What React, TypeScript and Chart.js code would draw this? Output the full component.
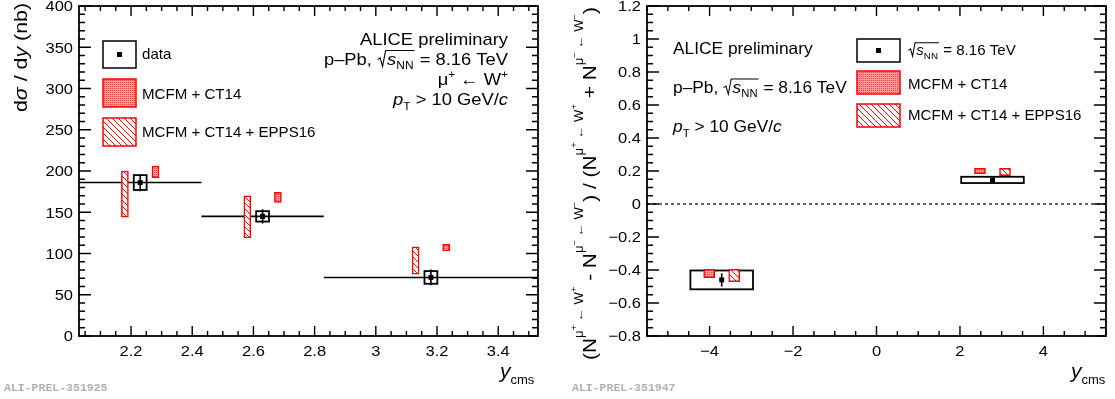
import React, { useEffect, useRef } from "react";
import { Chart, registerables } from "chart.js";
Chart.register(...registerables);

// ---------- Left panel: dσ/dy, μ+ ← W+ ----------
const binLoL = [2.03, 2.43, 2.83];
const binHiL = [2.43, 2.83, 3.53];
const ycmsL = [2.23, 2.63, 3.18];
const xsecL = [186, 145, 71];
const statL = [10.5, 8.7, 9.5];
const systL = [9, 6.3, 7.7];
const ct14XL = [2.28, 2.68, 3.23];
const ct14LoL = [192, 162, 103];
const ct14HiL = [206, 174, 111];
const eppsXL = [2.18, 2.58, 3.13];
const eppsLoL = [144, 119, 75];
const eppsHiL = [200, 170, 108];
const xTickValsL = [2.2, 2.4, 2.6, 2.8, 3, 3.2, 3.4];
const xTickLabsL = ["2.2", "2.4", "2.6", "2.8", "3", "3.2", "3.4"];
const yTickValsL = [0, 50, 100, 150, 200, 250, 300, 350, 400];
const yTickLabsL = ["0", "50", "100", "150", "200", "250", "300", "350", "400"];

// ---------- Right panel: charge asymmetry ----------
const binLoR = [-4.46, 2.03];
const binHiR = [-2.96, 3.53];
const ycmsR = [-3.71, 2.78];
const asymR = [-0.46, 0.146];
const statR = [0.04, 0.01];
const systR = [0.057, 0.019];
const ct14XR = [-4.01, 2.48];
const ct14LoR = [-0.447, 0.184];
const ct14HiR = [-0.396, 0.216];
const eppsXR = [-3.41, 3.08];
const eppsLoR = [-0.471, 0.172];
const eppsHiR = [-0.396, 0.216];
const xTickValsR = [-4, -2, 0, 2, 4];
const xTickLabsR = ["\u22124", "\u22122", "0", "2", "4"];
const yTickValsR = [-0.8, -0.6, -0.4, -0.2, 0, 0.2, 0.4, 0.6, 0.8, 1, 1.2];
const yTickLabsR = ["\u22120.8", "\u22120.6", "\u22120.4", "\u22120.2", "0", "0.2", "0.4", "0.6", "0.8", "1", "1.2"];

const FAM = '"Liberation Sans", Arial, Helvetica, sans-serif';
const RED = "#ff0000";
const SYS_HALF_L = 0.021;

type Seg = { t?: string; size: number; dy?: number; it?: boolean; sqrt?: Seg[] };
const T = (t: string, size: number, o: Partial<Seg> = {}): Seg => ({ t, size, ...o });
const fontOf = (s: Seg) => `${s.it ? "italic " : ""}${s.size}px ${FAM}`;

function segsWidth(ctx: CanvasRenderingContext2D, segs: Seg[]): number {
  let w = 0;
  for (const s of segs) {
    if (s.sqrt) w += s.size * 0.55 + segsWidth(ctx, s.sqrt) + 1;
    else {
      ctx.font = fontOf(s);
      w += ctx.measureText(s.t || "").width;
    }
  }
  return w;
}
function drawSegs(ctx: CanvasRenderingContext2D, segs: Seg[], x: number, y: number): number {
  for (const s of segs) {
    if (s.sqrt) {
      const rw = s.size * 0.55;
      const inner = segsWidth(ctx, s.sqrt);
      const top = y - s.size * 0.85;
      ctx.beginPath();
      ctx.moveTo(x + rw * 0.05, y - s.size * 0.32);
      ctx.lineTo(x + rw * 0.3, y - s.size * 0.42);
      ctx.lineTo(x + rw * 0.55, y + s.size * 0.08);
      ctx.lineTo(x + rw * 0.85, top);
      ctx.lineTo(x + rw + inner + 1, top);
      ctx.lineWidth = 1;
      ctx.stroke();
      x = drawSegs(ctx, s.sqrt, x + rw, y) + 1;
    } else {
      ctx.font = fontOf(s);
      ctx.fillText(s.t || "", x, y + (s.dy || 0));
      x += ctx.measureText(s.t || "").width;
    }
  }
  return x;
}
function drawRich(
  ctx: CanvasRenderingContext2D, segs: Seg[], x: number, y: number,
  align: "left" | "right" | "center" = "left",
  o: { rot?: number; sx?: number; fitW?: number; color?: string } = {}
) {
  ctx.save();
  ctx.translate(x, y);
  if (o.rot) ctx.rotate(o.rot);
  const w0 = segsWidth(ctx, segs);
  const sx = o.fitW ? o.fitW / w0 : o.sx ?? 1;
  ctx.scale(sx, 1);
  const x0 = align === "left" ? 0 : align === "right" ? -w0 : -w0 / 2;
  ctx.fillStyle = o.color || "#000";
  ctx.strokeStyle = o.color || "#000";
  ctx.textAlign = "left";
  ctx.textBaseline = "alphabetic";
  drawSegs(ctx, segs, x0, 0);
  ctx.restore();
}

function makeHatch(ctx: CanvasRenderingContext2D): CanvasPattern {
  const c = document.createElement("canvas");
  c.width = 6; c.height = 6;
  const g = c.getContext("2d")!;
  g.fillStyle = "#fff"; g.fillRect(0, 0, 6, 6);
  g.strokeStyle = RED; g.lineWidth = 1;
  g.beginPath();
  g.moveTo(-1, -1); g.lineTo(7, 7);
  g.moveTo(-1, 5); g.lineTo(1, 7);
  g.moveTo(5, -1); g.lineTo(7, 1);
  g.stroke();
  return ctx.createPattern(c, "repeat")!;
}
function makeDots(ctx: CanvasRenderingContext2D): CanvasPattern {
  const c = document.createElement("canvas");
  c.width = 2; c.height = 2;
  const g = c.getContext("2d")!;
  g.fillStyle = "#ff9a9a"; g.fillRect(0, 0, 2, 2);
  g.fillStyle = "#ff4040"; g.fillRect(0, 0, 1, 1);
  return ctx.createPattern(c, "repeat")!;
}

function drawAxes(
  chart: any, xMinor: number, xPer: number, yMinor: number, yPer: number,
  xVals: number[], xLabs: string[], yVals: number[], yLabs: string[]
) {
  const { ctx, chartArea: a, scales } = chart;
  const x = scales.x, y = scales.y;
  ctx.save();
  ctx.strokeStyle = "#000";
  ctx.lineWidth = 1.4;
  ctx.beginPath();
  const xk0 = Math.ceil(x.min / xMinor - 1e-6), xk1 = Math.floor(x.max / xMinor + 1e-6);
  for (let k = xk0; k <= xk1; k++) {
    const px = x.getPixelForValue(k * xMinor);
    const len = k % xPer === 0 ? 10 : 5;
    ctx.moveTo(px, a.bottom); ctx.lineTo(px, a.bottom - len);
    ctx.moveTo(px, a.top); ctx.lineTo(px, a.top + len);
  }
  const yk0 = Math.ceil(y.min / yMinor - 1e-6), yk1 = Math.floor(y.max / yMinor + 1e-6);
  for (let k = yk0; k <= yk1; k++) {
    const py = y.getPixelForValue(k * yMinor);
    const len = k % yPer === 0 ? 12 : 6;
    ctx.moveTo(a.left, py); ctx.lineTo(a.left + len, py);
    ctx.moveTo(a.right, py); ctx.lineTo(a.right - len, py);
  }
  ctx.stroke();
  ctx.lineWidth = 1.8;
  ctx.strokeRect(a.left, a.top, a.right - a.left, a.bottom - a.top);
  ctx.restore();
  xVals.forEach((v, i) => {
    drawRich(ctx, [T(xLabs[i], 15)], x.getPixelForValue(v), a.bottom + 20, "center", { sx: 1.1 });
  });
  yVals.forEach((v, i) => {
    drawRich(ctx, [T(yLabs[i], 15)], a.left - 6, y.getPixelForValue(v) + 5.3, "right", { sx: 1.1 });
  });
}

function ycmsTitle(ctx: CanvasRenderingContext2D, x: number) {
  drawRich(ctx, [T("y", 21, { it: true }), T("cms", 13, { dy: 6 })], x, 378, "left");
}
function aliTag(ctx: CanvasRenderingContext2D, x: number, s: string) {
  ctx.save();
  ctx.font = 'bold 11.5px "Liberation Mono", "DejaVu Sans Mono", monospace';
  ctx.fillStyle = "#b0b0b0";
  ctx.textBaseline = "alphabetic";
  ctx.fillText(s, x, 391);
  ctx.restore();
}
const sqrtS = (sz: number): Seg => ({ sqrt: [T("s", sz, { it: true }), T("NN", sz * 0.65, { dy: sz * 0.25 })], size: sz });

function makeLeft(canvas: HTMLCanvasElement): Chart {
  const c2d = canvas.getContext("2d")!;
  const hatch = makeHatch(c2d), dots = makeDots(c2d);
  const plugin = {
    id: "leftPanel",
    beforeDatasetsDraw(chart: any) {
      const { ctx, scales: { x, y } } = chart;
      ctx.save();
      ctx.strokeStyle = "#000";
      ctx.lineWidth = 1.6;
      xsecL.forEach((v, i) => {
        const py = y.getPixelForValue(v);
        ctx.beginPath();
        ctx.moveTo(x.getPixelForValue(binLoL[i]), py);
        ctx.lineTo(x.getPixelForValue(binHiL[i]), py);
        const px = x.getPixelForValue(ycmsL[i]);
        ctx.moveTo(px, y.getPixelForValue(v + statL[i]));
        ctx.lineTo(px, y.getPixelForValue(v - statL[i]));
        ctx.stroke();
        ctx.lineWidth = 1.8;
        const x0 = x.getPixelForValue(ycmsL[i] - SYS_HALF_L), x1 = x.getPixelForValue(ycmsL[i] + SYS_HALF_L);
        const y0 = y.getPixelForValue(v + systL[i]), y1 = y.getPixelForValue(v - systL[i]);
        ctx.strokeRect(x0, y0, x1 - x0, y1 - y0);
        ctx.lineWidth = 1.6;
      });
      ctx.restore();
    },
    afterDraw(chart: any) {
      const { ctx } = chart;
      drawAxes(chart, 0.05, 4, 10, 5, xTickValsL, xTickLabsL, yTickValsL, yTickLabsL);
      // legend
      ctx.save();
      ctx.lineWidth = 1.5;
      ctx.strokeStyle = "#000";
      ctx.strokeRect(103, 41, 33, 27);
      ctx.fillStyle = "#000";
      ctx.fillRect(117, 52, 5, 5);
      ctx.fillStyle = dots; ctx.fillRect(103, 79, 33, 28);
      ctx.strokeStyle = RED; ctx.strokeRect(103, 79, 33, 28);
      ctx.fillStyle = hatch; ctx.fillRect(103, 118, 33, 28);
      ctx.strokeRect(103, 118, 33, 28);
      ctx.restore();
      drawRich(ctx, [T("data", 14.5)], 142, 59, "left", { sx: 1.04 });
      drawRich(ctx, [T("MCFM + CT14", 14.5)], 142, 99, "left", { sx: 1.04 });
      drawRich(ctx, [T("MCFM + CT14 + EPPS16", 14.5)], 142, 137, "left", { sx: 1.04 });
      // labels
      const S = 17;
      drawRich(ctx, [T("ALICE preliminary", S)], 508, 45, "right", { sx: 1.08 });
      drawRich(ctx, [T("p\u2013Pb, ", S), sqrtS(S), T(" = 8.16 TeV", S)], 508, 65, "right", { sx: 1.08 });
      drawRich(ctx, [T("\u03bc", S), T("+", 11, { dy: -7 }), T(" \u2190 W", S), T("+", 11, { dy: -7 })], 508, 85, "right", { sx: 1.08 });
      drawRich(ctx, [T("p", S, { it: true }), T("T", 11, { dy: 5 }), T(" > 10 GeV/", S), T("c", S, { it: true })], 508, 105, "right", { sx: 1.08 });
      // axis titles
      drawRich(ctx, [T("d", 19), T("\u03c3", 19, { it: true }), T(" / d", 19), T("y", 19, { it: true }), T(" (nb)", 19)], 27, 3, "right", { rot: -Math.PI / 2, fitW: 109 });
      ycmsTitle(ctx, 500);
      aliTag(ctx, 4, "ALI-PREL-351925");
    },
  };
  return new Chart(canvas, {
    type: "bar",
    data: {
      datasets: [
        {
          type: "bar", label: "MCFM + CT14",
          data: ct14XL.map((xv, i) => ({ x: xv, y: [ct14LoL[i], ct14HiL[i]] })) as any,
          backgroundColor: dots, borderColor: RED, borderWidth: 1.5, borderSkipped: false,
          barThickness: 7, grouped: false, order: 2,
        } as any,
        {
          type: "bar", label: "MCFM + CT14 + EPPS16",
          data: eppsXL.map((xv, i) => ({ x: xv, y: [eppsLoL[i], eppsHiL[i]] })) as any,
          backgroundColor: hatch, borderColor: RED, borderWidth: 1.5, borderSkipped: false,
          barThickness: 7, grouped: false, order: 2,
        } as any,
        {
          type: "scatter", label: "data",
          data: ycmsL.map((xv, i) => ({ x: xv, y: xsecL[i] })),
          pointStyle: "rect", pointRadius: 3.5, backgroundColor: "#000", borderColor: "#000", borderWidth: 0, order: 0,
        } as any,
      ],
    },
    options: {
      animation: false, responsive: false, devicePixelRatio: 1, events: [],
      layout: { padding: { left: 79, right: 19, top: 6, bottom: 63 } },
      scales: {
        x: { type: "linear", min: 2.03, max: 3.53, display: false, offset: false },
        y: { type: "linear", min: 0, max: 400, display: false },
      },
      plugins: { legend: { display: false }, tooltip: { enabled: false } },
    } as any,
    plugins: [plugin],
  });
}

function makeRight(canvas: HTMLCanvasElement, ox: number): Chart {
  const c2d = canvas.getContext("2d")!;
  const hatch = makeHatch(c2d), dots = makeDots(c2d);
  const plugin = {
    id: "rightPanel",
    beforeDatasetsDraw(chart: any) {
      const { ctx, chartArea: a, scales: { x, y } } = chart;
      ctx.save();
      ctx.strokeStyle = "#000";
      ctx.lineWidth = 1.2;
      ctx.setLineDash([3, 3]);
      const p0 = y.getPixelForValue(0);
      ctx.beginPath(); ctx.moveTo(a.left, p0); ctx.lineTo(a.right, p0); ctx.stroke();
      ctx.setLineDash([]);
      asymR.forEach((v, i) => {
        ctx.lineWidth = 1.8;
        const x0 = x.getPixelForValue(binLoR[i]), x1 = x.getPixelForValue(binHiR[i]);
        const y0 = y.getPixelForValue(v + systR[i]), y1 = y.getPixelForValue(v - systR[i]);
        ctx.strokeRect(x0, y0, x1 - x0, y1 - y0);
        ctx.lineWidth = 1.6;
        const px = x.getPixelForValue(ycmsR[i]);
        ctx.beginPath();
        ctx.moveTo(px, y.getPixelForValue(v + statR[i]));
        ctx.lineTo(px, y.getPixelForValue(v - statR[i]));
        ctx.stroke();
      });
      ctx.restore();
    },
    afterDraw(chart: any) {
      const { ctx } = chart;
      drawAxes(chart, 0.5, 4, 0.05, 4, xTickValsR, xTickLabsR, yTickValsR, yTickLabsR);
      // legend
      ctx.save();
      ctx.lineWidth = 1.5;
      ctx.strokeStyle = "#000";
      ctx.strokeRect(857 - ox, 39, 43, 23);
      ctx.fillStyle = "#000";
      ctx.fillRect(876 - ox, 48, 5, 5);
      ctx.fillStyle = dots; ctx.fillRect(857 - ox, 71, 43, 23);
      ctx.strokeStyle = RED; ctx.strokeRect(857 - ox, 71, 43, 23);
      ctx.fillStyle = hatch; ctx.fillRect(857 - ox, 104, 43, 23);
      ctx.strokeRect(857 - ox, 104, 43, 23);
      ctx.restore();
      drawRich(ctx, [sqrtS(14.5), T(" = 8.16 TeV", 14.5)], 908 - ox, 55, "left", { sx: 1.04 });
      drawRich(ctx, [T("MCFM + CT14", 14.5)], 908 - ox, 89, "left", { sx: 1.04 });
      drawRich(ctx, [T("MCFM + CT14 + EPPS16", 14.5)], 908 - ox, 120, "left", { sx: 1.04 });
      const S = 16.5;
      drawRich(ctx, [T("ALICE preliminary", S)], 673 - ox, 54, "left", { sx: 1.05 });
      drawRich(ctx, [T("p\u2013Pb, ", S), sqrtS(S), T(" = 8.16 TeV", S)], 673 - ox, 93, "left", { sx: 1.05 });
      drawRich(ctx, [T("p", S, { it: true }), T("T", 11, { dy: 5 }), T(" > 10 GeV/", S), T("c", S, { it: true })], 673 - ox, 132, "left", { sx: 1.05 });
      // y title
      const B = 19, s = 12;
      const sub = (sg: string): Seg[] => [
        T("\u03bc", s, { dy: -13 }), T(sg, 8.5, { dy: -19 }), T(" \u2190 W", s, { dy: -13 }), T(sg, 8.5, { dy: -19 }),
      ];
      drawRich(ctx, [
        T("(N", B), ...sub("+"), T(" - N", B), ...sub("\u2212"), T(") / (N", B), ...sub("+"),
        T(" + N", B), ...sub("\u2212"), T(")", B),
      ], 596 - ox, 360, "left", { rot: -Math.PI / 2, fitW: 353 });
      ycmsTitle(ctx, 1071 - ox);
      aliTag(ctx, 572 - ox, "ALI-PREL-351947");
    },
  };
  return new Chart(canvas, {
    type: "bar",
    data: {
      datasets: [
        {
          type: "bar", label: "MCFM + CT14",
          data: ct14XR.map((xv, i) => ({ x: xv, y: [ct14LoR[i], ct14HiR[i]] })) as any,
          backgroundColor: dots, borderColor: RED, borderWidth: 1.5, borderSkipped: false,
          barThickness: 11, grouped: false, order: 2,
        } as any,
        {
          type: "bar", label: "MCFM + CT14 + EPPS16",
          data: eppsXR.map((xv, i) => ({ x: xv, y: [eppsLoR[i], eppsHiR[i]] })) as any,
          backgroundColor: hatch, borderColor: RED, borderWidth: 1.5, borderSkipped: false,
          barThickness: 11, grouped: false, order: 2,
        } as any,
        {
          type: "scatter", label: "\u221as_NN = 8.16 TeV",
          data: ycmsR.map((xv, i) => ({ x: xv, y: asymR[i] })),
          pointStyle: "rect", pointRadius: 3.5, backgroundColor: "#000", borderColor: "#000", borderWidth: 0, order: 0,
        } as any,
      ],
    },
    options: {
      animation: false, responsive: false, devicePixelRatio: 1, events: [],
      layout: { padding: { left: 647 - ox, right: 1115 - 1106, top: 6, bottom: 63 } },
      scales: {
        x: { type: "linear", min: -5.5, max: 5.5, display: false, offset: false },
        y: { type: "linear", min: -0.8, max: 1.2, display: false },
      },
      plugins: { legend: { display: false }, tooltip: { enabled: false } },
    } as any,
    plugins: [plugin],
  });
}

export default function App() {
  const leftRef = useRef<HTMLCanvasElement>(null);
  const rightRef = useRef<HTMLCanvasElement>(null);
  useEffect(() => {
    const c1 = makeLeft(leftRef.current!);
    const c2 = makeRight(rightRef.current!, 557);
    return () => { c1.destroy(); c2.destroy(); };
  }, []);
  return (
    <div style={{ position: "absolute", left: 0, top: 0, width: 1115, height: 399, background: "#fff", overflow: "hidden" }}>
      <canvas ref={leftRef} width={557} height={399} style={{ position: "absolute", left: 0, top: 0, width: 557, height: 399 }} />
      <canvas ref={rightRef} width={558} height={399} style={{ position: "absolute", left: 557, top: 0, width: 558, height: 399 }} />
    </div>
  );
}
